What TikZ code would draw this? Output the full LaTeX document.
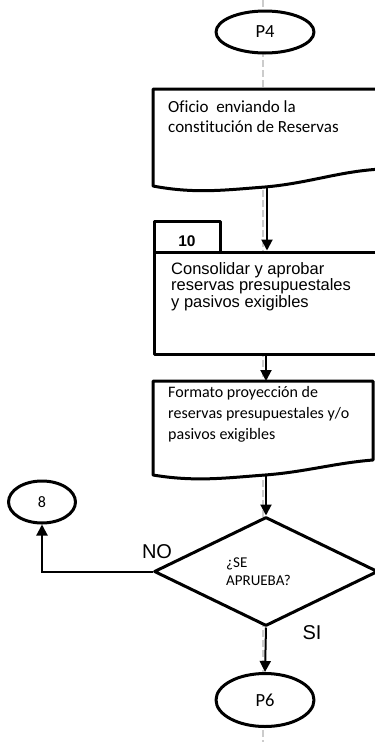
\documentclass[tikz,border=0pt]{standalone}
\usepackage{fontspec}
\setmainfont{Carlito}[Ligatures={NoCommon,NoRequired}]
\newfontfamily\arialfont{Liberation Sans}
\usetikzlibrary{arrows.meta,shapes.geometric}

\begin{document}
\begin{tikzpicture}[x=1pt,y=-1pt,
  shapeline/.style={draw=black,line width=3pt,fill=white,line join=round},
  flow/.style={draw=black,line width=2pt,-{Triangle[length=11pt,width=11pt]}},
  lane/.style={draw=black!20,line width=2pt,dash pattern=on 7pt off 3pt},
  terminal/.style={shapeline,ellipse,inner sep=0pt,font=\fontsize{18.5}{20}\selectfont},
  doctext/.style={anchor=north west,inner sep=0pt,align=left},
  answer/.style={font=\arialfont\fontsize{20}{22}\selectfont,inner sep=0pt}]
\useasboundingbox (0,0) rectangle (375,742);
\clip (0,0) rectangle (375,742);

% swimlane guide
\draw[lane] (263,0) -- (263,742);

% start connector
\node[terminal,minimum width=98pt,minimum height=42pt] (p4) at (265,32) {P4};

% document: oficio
\draw[shapeline] (153,89) -- (382,89) -- (382,169)
  .. controls (340,171) and (310,183) .. (265,187)
  .. controls (225,190) and (195,194) .. (153,186) -- cycle;
\coordinate (d1b) at (267,187);
\node[doctext,font=\fontsize{17}{20.5}\selectfont] (t1) at (168,100)
  {Oficio\ \ enviando la\\constitución de Reservas};

% activity 10
\node[shapeline,rectangle,minimum width=228pt,minimum height=102pt,inner sep=0pt] (proc) at (268,303) {};
\draw[shapeline] (154,252) rectangle (220,221);
\node[font=\arialfont\bfseries\fontsize{15.5}{16}\selectfont,inner sep=0pt] (n10) at (187,241) {10};
\node[doctext,font=\arialfont\fontsize{16.5}{16.7}\selectfont] (t2) at (171,262)
  {Consolidar y aprobar\\reservas presupuestales\\y pasivos exigibles};

% document: formato
\draw[shapeline] (153,381) -- (373,381) -- (373,460)
  .. controls (335,463) and (305,472) .. (265,475)
  .. controls (225,478) and (195,482) .. (153,475) -- cycle;
\coordinate (d2t) at (266,381);
\coordinate (d2b) at (266,475);
\node[doctext,font=\fontsize{16}{21}\selectfont] (t3) at (168,386)
  {Formato proyección de\\reservas presupuestales y/o\\pasivos exigibles};

% decision
\node[shapeline,diamond,minimum width=224pt,minimum height=109pt,inner sep=0pt] (dec) at (266,571.5) {};
\node[doctext,font=\fontsize{15}{18}\selectfont] (q) at (226,558) {¿SE\\APRUEBA?};

% off-page connector 8
\node[shapeline,ellipse,minimum width=67pt,minimum height=42pt,inner sep=0pt,
  font=\fontsize{16}{18}\selectfont] (c8) at (42,502) {8};

% end connector
\node[terminal,minimum width=98pt,minimum height=53pt] (p6) at (265,700) {P6};

% flow
\draw[flow] (d1b) -- (d1b |- proc.north);
\draw[flow] (d2t |- proc.south) -- (d2t);
\draw[flow] (d2b) -- (dec.north);
\draw[flow] (dec.south) -- (p6.north);
\draw[flow] (dec.west) -| (c8.south);

\node[answer] (no) at (157,552) {NO};
\node[answer] (si) at (312,633) {SI};
\end{tikzpicture}
\end{document}
